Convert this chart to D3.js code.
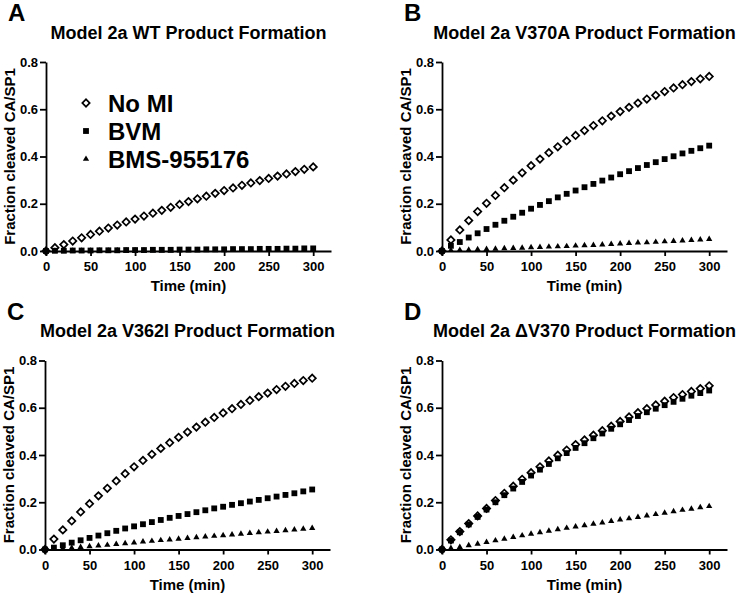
<!DOCTYPE html>
<html>
<head>
<meta charset="utf-8">
<script src="https://cdn.jsdelivr.net/npm/d3@7"></script>
<style>
  body { margin: 0; background: #fff; }
  svg { display: block; font-family: "Liberation Sans", Arial, sans-serif; font-weight: bold; }
</style>
</head>
<body>
<script>
// time points (min) shared by all panels
const times = [0, 10, 20, 30, 40, 50, 60, 70, 80, 90, 100, 110, 120, 130, 140, 150,
  160, 170, 180, 190, 200, 210, 220, 230, 240, 250, 260, 270, 280, 290, 300];

const xTicks = [0, 50, 100, 150, 200, 250, 300];
const yTicks = [0, 0.2, 0.4, 0.6, 0.8];

const seriesNames = ['No MI', 'BVM', 'BMS-955176'];

const panelLetters = ['A', 'B', 'C', 'D'];
const panelTitles = [
  'Model 2a WT Product Formation',
  'Model 2a V370A Product Formation',
  'Model 2a V362I Product Formation',
  'Model 2a \u0394V370 Product Formation'
];

// fraction cleaved CA/SP1
const wtNoMI = [0, 0.014, 0.027, 0.042, 0.056, 0.07, 0.084, 0.097, 0.11, 0.123, 0.135, 0.148, 0.16, 0.172, 0.185, 0.197,
  0.209, 0.221, 0.232, 0.244, 0.256, 0.267, 0.278, 0.288, 0.298, 0.307, 0.317, 0.326, 0.336, 0.346, 0.356];
const wtBVM = [0, 0.001, 0.001, 0.002, 0.002, 0.002, 0.003, 0.003, 0.003, 0.004, 0.004, 0.004, 0.005, 0.005, 0.005, 0.006,
  0.006, 0.006, 0.007, 0.007, 0.007, 0.008, 0.008, 0.008, 0.009, 0.009, 0.009, 0.01, 0.01, 0.011, 0.011];
const wtBMS = [0, 0, 0.001, 0.001, 0.001, 0.001, 0.001, 0.001, 0.002, 0.002, 0.002, 0.002, 0.002, 0.002, 0.002, 0.003,
  0.003, 0.003, 0.003, 0.003, 0.003, 0.003, 0.004, 0.004, 0.004, 0.004, 0.004, 0.004, 0.004, 0.005, 0.005];

const v370aNoMI = [0, 0.047, 0.089, 0.129, 0.167, 0.202, 0.235, 0.268, 0.3, 0.331, 0.361, 0.389, 0.416, 0.441, 0.466, 0.489,
  0.51, 0.531, 0.551, 0.571, 0.59, 0.608, 0.626, 0.643, 0.659, 0.675, 0.69, 0.704, 0.717, 0.729, 0.739];
const v370aBVM = [0, 0.022, 0.038, 0.057, 0.075, 0.093, 0.111, 0.128, 0.145, 0.162, 0.179, 0.195, 0.211, 0.227, 0.242, 0.256,
  0.27, 0.284, 0.298, 0.311, 0.325, 0.338, 0.351, 0.364, 0.376, 0.389, 0.401, 0.413, 0.424, 0.435, 0.446];
const v370aBMS = [0, 0.003, 0.004, 0.005, 0.007, 0.008, 0.009, 0.011, 0.012, 0.013, 0.015, 0.016, 0.018, 0.019, 0.02, 0.022,
  0.024, 0.025, 0.027, 0.029, 0.031, 0.033, 0.035, 0.036, 0.038, 0.04, 0.042, 0.044, 0.046, 0.048, 0.05];

const v362iNoMI = [0, 0.044, 0.083, 0.121, 0.159, 0.194, 0.227, 0.259, 0.29, 0.321, 0.35, 0.377, 0.403, 0.428, 0.452, 0.475,
  0.497, 0.518, 0.539, 0.559, 0.578, 0.596, 0.614, 0.631, 0.647, 0.662, 0.677, 0.691, 0.703, 0.715, 0.725];
const v362iBVM = [0, 0.008, 0.018, 0.029, 0.039, 0.049, 0.059, 0.069, 0.079, 0.089, 0.098, 0.107, 0.116, 0.125, 0.134, 0.142,
  0.15, 0.158, 0.166, 0.174, 0.181, 0.189, 0.196, 0.203, 0.21, 0.217, 0.224, 0.231, 0.238, 0.246, 0.254];
const v362iBMS = [0, 0.002, 0.004, 0.007, 0.01, 0.013, 0.016, 0.019, 0.023, 0.026, 0.029, 0.033, 0.036, 0.039, 0.042, 0.045,
  0.048, 0.051, 0.054, 0.057, 0.06, 0.063, 0.066, 0.069, 0.072, 0.075, 0.078, 0.081, 0.084, 0.087, 0.09];

const dV370NoMI = [0, 0.041, 0.076, 0.11, 0.142, 0.174, 0.207, 0.238, 0.268, 0.297, 0.325, 0.35, 0.375, 0.399, 0.421, 0.444,
  0.464, 0.484, 0.503, 0.522, 0.542, 0.561, 0.579, 0.596, 0.612, 0.628, 0.643, 0.656, 0.669, 0.681, 0.693];
const dV370BVM = [0, 0.038, 0.073, 0.106, 0.138, 0.169, 0.2, 0.23, 0.258, 0.286, 0.313, 0.338, 0.362, 0.386, 0.408, 0.43,
  0.45, 0.471, 0.491, 0.511, 0.53, 0.548, 0.565, 0.581, 0.596, 0.611, 0.625, 0.638, 0.651, 0.662, 0.673];
const dV370BMS = [0, 0.006, 0.01, 0.017, 0.024, 0.031, 0.038, 0.045, 0.052, 0.059, 0.066, 0.072, 0.079, 0.085, 0.091, 0.097,
  0.102, 0.108, 0.114, 0.12, 0.126, 0.131, 0.137, 0.143, 0.149, 0.155, 0.161, 0.167, 0.172, 0.178, 0.183];

const panelSeries = [
  [wtNoMI, wtBVM, wtBMS],
  [v370aNoMI, v370aBVM, v370aBMS],
  [v362iNoMI, v362iBVM, v362iBMS],
  [dV370NoMI, dV370BVM, dV370BMS]
];

const render = () => {
  const width = 739;
  const height = 595;
  const innerWidth = 285;
  const innerHeight = 189;

  // top-left corner of each plot area
  const origins = [
    { x: 46, y: 62 },
    { x: 442, y: 62 },
    { x: 45, y: 360.5 },
    { x: 442, y: 360.5 }
  ];

  // marker paths: open diamond, filled square, filled triangle
  const markers = [
    { path: d3.symbol(d3.symbolSquare, 27)(), rotate: 45, fill: 'none', stroke: '#000', sw: 1.7 },
    { path: d3.symbol(d3.symbolSquare, 34)(), rotate: 0, fill: '#000', stroke: 'none', sw: 0 },
    { path: d3.symbol(d3.symbolTriangle, 17)(), rotate: 0, fill: '#000', stroke: 'none', sw: 0 }
  ];
  const drawOrder = [1, 2, 0];

  const svg = d3.select('body')
    .append('svg')
    .attr('width', width)
    .attr('height', height);

  const xScale = d3.scaleLinear().domain([0, 320]).range([0, innerWidth]);
  const yScale = d3.scaleLinear().domain([0, 0.8]).range([innerHeight, 0]);

  const xAxis = d3.axisBottom(xScale)
    .tickValues(xTicks)
    .tickSize(5)
    .tickPadding(6)
    .tickSizeOuter(0);
  const yAxis = d3.axisLeft(yScale)
    .tickValues(yTicks)
    .tickFormat(d3.format('.1f'))
    .tickSize(6)
    .tickPadding(2)
    .tickSizeOuter(0);

  origins.forEach((o, p) => {
    const g = svg.append('g')
      .attr('transform', `translate(${o.x}, ${o.y})`);

    // panel letter and title
    g.append('text')
      .attr('x', -38)
      .attr('y', -41)
      .attr('font-size', 24)
      .text(panelLetters[p]);

    g.append('text')
      .attr('x', innerWidth / 2)
      .attr('y', -23.5)
      .attr('text-anchor', 'middle')
      .attr('font-size', 18)
      .text(panelTitles[p]);

    // axes
    const xAxisG = g.append('g')
      .attr('transform', `translate(0, ${innerHeight})`)
      .call(xAxis);
    const yAxisG = g.append('g').call(yAxis);

    [xAxisG, yAxisG].forEach(a => {
      a.attr('font-family', null).attr('font-size', 13);
      a.selectAll('path, line').attr('stroke', '#000').attr('stroke-width', 1.8);
      a.selectAll('text').attr('fill', '#000').attr('font-weight', 'bold');
    });

    g.append('text')
      .attr('x', innerWidth / 2)
      .attr('y', innerHeight + 40)
      .attr('text-anchor', 'middle')
      .attr('font-size', 15)
      .text('Time (min)');

    g.append('text')
      .attr('transform', 'rotate(-90)')
      .attr('x', -innerHeight / 2)
      .attr('y', -31.5)
      .attr('text-anchor', 'middle')
      .attr('font-size', 15)
      .text('Fraction cleaved CA/SP1');

    // data points
    drawOrder.forEach(s => {
      const m = markers[s];
      g.append('g').selectAll('path')
        .data(panelSeries[p][s].map((v, i) => ({ t: times[i], v: v })))
        .enter().append('path')
        .attr('d', m.path)
        .attr('transform', d => `translate(${xScale(d.t)}, ${yScale(d.v)}) rotate(${m.rotate})`)
        .attr('fill', m.fill)
        .attr('stroke', m.stroke)
        .attr('stroke-width', m.sw);
    });

    // legend only in the first panel
    if (p === 0) {
      const legend = g.append('g')
        .attr('transform', 'translate(40, 41)');
      seriesNames.forEach((name, s) => {
        const m = markers[s];
        legend.append('path')
          .attr('d', m.path)
          .attr('transform', `translate(0, ${s * 28}) rotate(${m.rotate})`)
          .attr('fill', m.fill)
          .attr('stroke', m.stroke)
          .attr('stroke-width', m.sw);
        legend.append('text')
          .attr('x', 22)
          .attr('y', s * 28 + 8.5)
          .attr('font-size', 24)
          .text(name);
      });
    }
  });
};

render();
</script>
</body>
</html>
